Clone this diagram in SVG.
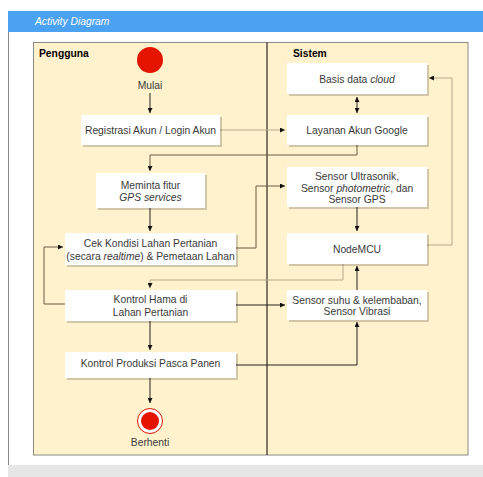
<svg xmlns="http://www.w3.org/2000/svg" width="483" height="477" viewBox="0 0 483 477">
<style>
text{font-family:"Liberation Sans",Arial,sans-serif;font-size:10.3px;fill:#3a3a3a;text-anchor:middle}
.lane{font-weight:bold;fill:#000;text-anchor:start}
.box{fill:#fff;stroke:none}
.sh{fill:#000;opacity:0.18}
.cd{fill:none;stroke:#222;stroke-width:1}
.cm{fill:none;stroke:#6b5d45;stroke-width:1}
.cl{fill:none;stroke:#b9aa8c;stroke-width:1}
</style>
<defs>
<marker id="a" viewBox="0 0 6 6" refX="6" refY="3" markerWidth="5" markerHeight="5" orient="auto" markerUnits="userSpaceOnUse"><path d="M0,0L6,3L0,6z" fill="#111"/></marker>
<marker id="as" viewBox="0 0 6 6" refX="0" refY="3" markerWidth="5" markerHeight="5" orient="auto" markerUnits="userSpaceOnUse"><path d="M6,0L0,3L6,6z" fill="#111"/></marker>
</defs>
<rect x="0" y="0" width="483" height="477" fill="#fff"/>
<g id="frame">
<rect x="8" y="465" width="475" height="12" fill="#e6e6e6"/>
<line x1="8.5" y1="11" x2="8.5" y2="465" stroke="#888"/>
<rect x="8" y="11" width="475" height="21" fill="#4ba1f2"/>
<text x="35" y="25" style="font-style:italic;fill:#fff;text-anchor:start">Activity Diagram</text>
</g>
<g id="pool">
<rect x="33.5" y="42.5" width="434.5" height="412.5" fill="#fff2cc" stroke="#8a8a8a"/>
<line x1="267" y1="42.5" x2="267" y2="455" stroke="#000"/>
<text class="lane" x="39" y="57">Pengguna</text>
<text class="lane" x="293" y="57">Sistem</text>
</g>
<g id="connectors">
<path class="cd" d="M150,93V113" marker-end="url(#a)"/>
<path class="cl" d="M220,130H285" marker-end="url(#a)"/>
<path class="cd" d="M357,97V113" marker-start="url(#as)" marker-end="url(#a)"/>
<path class="cm" d="M357,145V155H150V171" marker-end="url(#a)"/>
<path class="cd" d="M150,208V231" marker-end="url(#a)"/>
<path class="cm" d="M236,248H256V186H285" marker-end="url(#a)"/>
<path class="cd" d="M357,207V231" marker-end="url(#a)"/>
<path class="cl" d="M427,245H452V78H429" marker-end="url(#a)"/>
<path class="cl" d="M343,264V280H150V288" marker-end="url(#a)"/>
<path class="cm" d="M65,304H44V247H63" marker-end="url(#a)"/>
<path class="cd" d="M236,305H285" marker-end="url(#a)"/>
<path class="cd" d="M357,290V266" marker-end="url(#a)"/>
<path class="cd" d="M150,321V350" marker-end="url(#a)"/>
<path class="cd" d="M236,365H357V322" marker-end="url(#a)"/>
<path class="cd" d="M150,378V403" marker-end="url(#a)"/>
</g>
<g id="start">
<circle cx="150" cy="60" r="13" fill="#e51400"/>
<text x="150" y="89">Mulai</text>
</g>
<g id="registrasi">
<rect class="sh" x="83" y="117" width="139" height="30"/>
<rect class="box" x="81" y="115" width="139" height="30"/>
<text x="150.5" y="134">Registrasi Akun / Login Akun</text>
</g>
<g id="basis">
<rect class="sh" x="289" y="65" width="140" height="31"/>
<rect class="box" x="287" y="63" width="140" height="31"/>
<text x="357" y="83">Basis data <tspan font-style="italic">cloud</tspan></text>
</g>
<g id="layanan">
<rect class="sh" x="289" y="117" width="140" height="30"/>
<rect class="box" x="287" y="115" width="140" height="30"/>
<text x="357" y="134">Layanan Akun Google</text>
</g>
<g id="meminta">
<rect class="sh" x="98" y="175" width="109" height="35"/>
<rect class="box" x="96" y="173" width="109" height="35"/>
<text x="150.5" y="189">Meminta fitur</text>
<text x="150.5" y="201" font-style="italic">GPS services</text>
</g>
<g id="sensor-ultrasonik">
<rect class="sh" x="289" y="169" width="140" height="40"/>
<rect class="box" x="287" y="167" width="140" height="40"/>
<text x="357" y="180">Sensor Ultrasonik,</text>
<text x="357" y="192">Sensor <tspan font-style="italic">photometric</tspan>, dan</text>
<text x="357" y="203">Sensor GPS</text>
</g>
<g id="cek">
<rect class="sh" x="67" y="235" width="171" height="32"/>
<rect class="box" x="65" y="233" width="171" height="32"/>
<text x="150.5" y="247">Cek Kondisi Lahan Pertanian</text>
<text x="150.5" y="260">(secara <tspan font-style="italic">realtime</tspan>) &amp; Pemetaan Lahan</text>
</g>
<g id="nodemcu">
<rect class="sh" x="289" y="235" width="140" height="31"/>
<rect class="box" x="287" y="233" width="140" height="31"/>
<text x="357" y="253">NodeMCU</text>
</g>
<g id="kontrol-hama">
<rect class="sh" x="67" y="292" width="171" height="31"/>
<rect class="box" x="65" y="290" width="171" height="31"/>
<text x="150.5" y="303">Kontrol Hama di</text>
<text x="150.5" y="316">Lahan Pertanian</text>
</g>
<g id="sensor-suhu">
<rect class="sh" x="289" y="292" width="140" height="30"/>
<rect class="box" x="287" y="290" width="140" height="30"/>
<text x="357" y="304">Sensor suhu &amp; kelembaban,</text>
<text x="357" y="315">Sensor Vibrasi</text>
</g>
<g id="kontrol-produksi">
<rect class="sh" x="67" y="354" width="171" height="26"/>
<rect class="box" x="65" y="352" width="171" height="26"/>
<text x="150.5" y="367">Kontrol Produksi Pasca Panen</text>
</g>
<g id="end">
<circle cx="150" cy="421" r="12.5" fill="#fff" stroke="#e51400" stroke-width="1"/>
<circle cx="150" cy="421" r="9" fill="#e51400"/>
<text x="150" y="446">Berhenti</text>
</g>
</svg>
